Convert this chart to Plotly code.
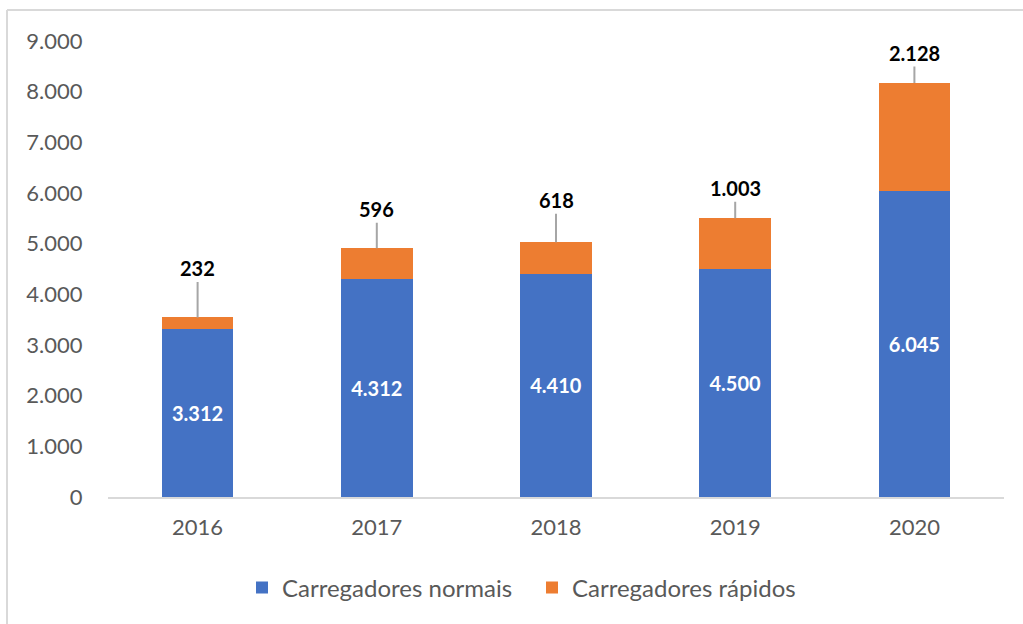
import plotly.graph_objects as go

anos = ["2016", "2017", "2018", "2019", "2020"]
normais = [3312, 4312, 4410, 4500, 6045]
rapidos = [232, 596, 618, 1003, 2128]
offsets = [-49, -39, -42, -30, -30]

AZUL = "#4472C4"
LARANJA = "#ED7D31"
FONTE = "Lato"

fig = go.Figure()
fig.add_trace(go.Bar(
    x=anos, y=normais, name="Carregadores normais",
    marker=dict(color=AZUL, line=dict(width=0)),
    texttemplate="<b>%{y:,d}</b>", textposition="inside", insidetextanchor="middle",
    textfont=dict(color="white", size=20, family=FONTE),
    textangle=0, width=0.4,
))
fig.add_trace(go.Bar(
    x=anos, y=rapidos, name="Carregadores rápidos",
    marker=dict(color=LARANJA, line=dict(width=0)),
    textposition="none", width=0.4,
))

# rótulos dos carregadores rápidos com linha de chamada
totais = [n + r for n, r in zip(normais, rapidos)]
for i, (tot, r, off) in enumerate(zip(totais, rapidos, offsets)):
    fig.add_annotation(
        xref="x", yref="y",
        x=i, y=tot, text=f"<b>{r:,}</b>".replace(",", "."),
        showarrow=True, arrowhead=0, arrowwidth=2, arrowcolor="#A6A6A6",
        ax=0, ay=off,
        font=dict(size=20, color="black", family=FONTE),
    )

# moldura cinza (topo e lado esquerdo)
W, H = 1023, 624
L, R, T, B = 108, 19, 41, 127
pw, ph = W - L - R, H - T - B
def px_x(p):
    return (p - L) / pw
def px_y(p):
    return (H - B - p) / ph
fig.add_shape(type="line", xref="paper", yref="paper",
              x0=px_x(7), x1=px_x(W + 5), y0=px_y(10), y1=px_y(10),
              line=dict(color="#D9D9D9", width=2))
fig.add_shape(type="line", xref="paper", yref="paper",
              x0=px_x(7), x1=px_x(7), y0=px_y(10), y1=px_y(H + 5),
              line=dict(color="#D9D9D9", width=2))

fig.update_layout(
    barmode="stack",
    width=W, height=H,
    margin=dict(l=L, r=R, t=T, b=B),
    paper_bgcolor="white", plot_bgcolor="white",
    separators=",.",
    font=dict(family=FONTE, size=22, color="#595959"),
    showlegend=True,
    legend=dict(orientation="h", x=px_x(242), xanchor="left",
                y=px_y(588), yanchor="middle",
                font=dict(size=24, color="#595959"),
                entrywidth=245, entrywidthmode="pixels",
                traceorder="normal"),
    xaxis=dict(type="category", range=[-0.5, 4.5],
               showline=True, linecolor="#D9D9D9", linewidth=2,
               ticks="outside", ticklen=10, tickcolor="rgba(0,0,0,0)",
               showgrid=False),
    yaxis=dict(range=[0, 9000], dtick=1000, tickformat=",d",
               showgrid=False, showline=False, zeroline=False,
               ticks="outside", ticklen=20, tickcolor="rgba(0,0,0,0)"),
)

fig.write_html("out.html", config={"displayModeBar": False},
               post_script="document.body.style.margin='0';")
